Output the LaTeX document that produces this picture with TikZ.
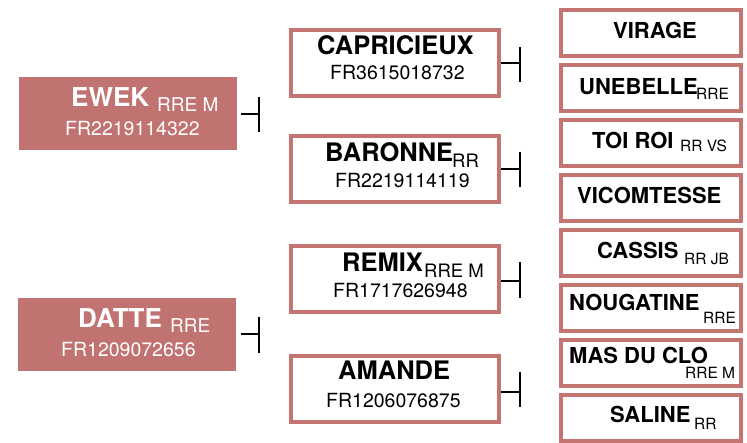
\documentclass[tikz,border=0pt]{standalone}
\usepackage{fontspec}
\setmainfont{TeX Gyre Heros}
\definecolor{rose}{HTML}{C17371}
\definecolor{roseline}{HTML}{C47572}
\tikzset{
  leftbox/.style={rectangle, fill=rose, draw=none, inner sep=0pt, anchor=north west},
  framebox/.style={rectangle, draw=roseline, line width=4pt, fill=white, inner sep=0pt},
  bignamew/.style={anchor=base west, inner sep=0pt, text=white, font=\fontsize{26}{28}\selectfont\bfseries},
  bigsubw/.style={anchor=base west, inner sep=0pt, text=white, font=\fontsize{19}{22}\selectfont},
  bigname/.style={anchor=base west, inner sep=0pt, text=black, font=\fontsize{25.5}{28}\selectfont\bfseries},
  bigsub/.style={anchor=base west, inner sep=0pt, text=black, font=\fontsize{18.5}{22}\selectfont},
  code/.style={anchor=base west, inner sep=0pt, font=\fontsize{19.5}{22}\selectfont},
  smallname/.style={anchor=base west, inner sep=0pt, text=black, font=\fontsize{22}{26}\selectfont\bfseries},
  smallsub/.style={anchor=base west, inner sep=0pt, text=black, font=\fontsize{15.5}{18}\selectfont},
  conn/.style={line width=1.5pt, black},
}
\begin{document}
\begin{tikzpicture}[x=1pt,y=-1pt]
\useasboundingbox (0,0) rectangle (747,443);
% left column
\node[leftbox, minimum width=218, minimum height=73] (ewek) at (19,77) {};
\node[bignamew] (ewekN) at (71,107) {EWEK};
\node[bigsubw] (ewekS) at (157,112) {RRE M};
\node[code, text=white] (ewekC) at (65,136) {FR2219114322};
\node[leftbox, minimum width=218, minimum height=73] (datte) at (18,298) {};
\node[bignamew] (datteN) at (78,328) {DATTE};
\node[bigsubw] (datteS) at (170,333) {RRE};
\node[code, text=white] (datteC) at (61,357) {FR1209072656};
% middle column
\node[framebox, minimum width=208, minimum height=66] (capri) at (395,63) {};
\node[bigname] (capriN) at (317,55) {CAPRICIEUX};
\node[code] (capriC) at (330,80) {FR3615018732};
\node[framebox, minimum width=208, minimum height=66] (baro) at (395,169) {};
\node[bigname] (baroN) at (325,162) {BARONNE};
\node[bigsub] (baroS) at (452,168) {RR};
\node[code] (baroC) at (335,188) {FR2219114119};
\node[framebox, minimum width=208, minimum height=66] (remix) at (395,279) {};
\node[bigname] (remixN) at (342,272) {REMIX};
\node[bigsub] (remixS) at (424,278) {RRE M};
\node[code] (remixC) at (333,298) {FR1717626948};
\node[framebox, minimum width=208, minimum height=66] (amande) at (395,389) {};
\node[bigname] (amandeN) at (338,380) {AMANDE};
\node[code] (amandeC) at (326,408) {FR1206076875};
% right column
\node[framebox, minimum width=180, minimum height=46] (vir) at (651,33) {};
\node[smallname] (virN) at (613,39) {VIRAGE};
\node[framebox, minimum width=180, minimum height=46] (une) at (651,88) {};
\node[smallname] (uneN) at (579,95) {UNEBELLE};
\node[smallsub] (uneS) at (696,100) {RRE};
\node[framebox, minimum width=180, minimum height=46] (toi) at (651,143) {};
\node[smallname] (toiN) at (592,149) {TOI ROI};
\node[smallsub] (toiS) at (680,152) {RR VS};
\node[framebox, minimum width=180, minimum height=46] (vic) at (651,198) {};
\node[smallname] (vicN) at (577,204) {VICOMTESSE};
\node[framebox, minimum width=180, minimum height=46] (cas) at (651,253) {};
\node[smallname] (casN) at (597,259) {CASSIS};
\node[smallsub] (casS) at (684,265) {RR JB};
\node[framebox, minimum width=180, minimum height=46] (nou) at (651,308) {};
\node[smallname] (nouN) at (569,311) {NOUGATINE};
\node[smallsub] (nouS) at (703,324) {RRE};
\node[framebox, minimum width=180, minimum height=46] (mas) at (651,363) {};
\node[smallname] (masN) at (569,364) {MAS DU CLO};
\node[smallsub] (masS) at (685,379) {RRE M};
\node[framebox, minimum width=180, minimum height=46] (sal) at (651,418) {};
\node[smallname] (salN) at (610,423) {SALINE};
\node[smallsub] (salS) at (694,429) {RR};
% connectors: horizontal stub ending on a vertical bar
\coordinate (ewekS0) at (241,114); \coordinate (ewekT) at (259,114);
\coordinate (ewekA) at (259,97);   \coordinate (ewekB) at (259,132);
\coordinate (datteS0) at (241,334); \coordinate (datteT) at (259,334);
\coordinate (datteA) at (259,317);  \coordinate (datteB) at (259,353);
\coordinate (capriT) at (520,63);
\coordinate (capriA) at (520,47);  \coordinate (capriB) at (520,82);
\coordinate (baroT) at (520,169);
\coordinate (baroA) at (520,152);  \coordinate (baroB) at (520,187);
\coordinate (remixT) at (520,281);
\coordinate (remixA) at (520,262); \coordinate (remixB) at (520,298);
\coordinate (amandeT) at (520,392);
\coordinate (amandeA) at (520,372); \coordinate (amandeB) at (520,407);
\draw[conn] (ewekS0) -- (ewekT);  \draw[conn] (ewekA) -- (ewekB);
\draw[conn] (datteS0) -- (datteT); \draw[conn] (datteA) -- (datteB);
\draw[conn] (capri.east |- capriT) -- (capriT); \draw[conn] (capriA) -- (capriB);
\draw[conn] (baro.east |- baroT) -- (baroT); \draw[conn] (baroA) -- (baroB);
\draw[conn] (remix.east |- remixT) -- (remixT); \draw[conn] (remixA) -- (remixB);
\draw[conn] (amande.east |- amandeT) -- (amandeT); \draw[conn] (amandeA) -- (amandeB);
\end{tikzpicture}
\end{document}
